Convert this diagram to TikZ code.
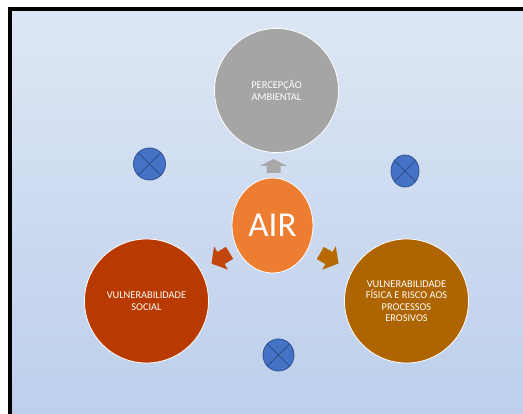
\documentclass[tikz,border=0pt]{standalone}
\usepackage{fontspec}
\setmainfont{Carlito}
\definecolor{bgtop}{HTML}{DDE6F4}
\definecolor{bgmid}{HTML}{A9C0E6}
\definecolor{bgbot}{HTML}{BDCFEC}
\definecolor{cgrey}{HTML}{A5A5A5}
\definecolor{cair}{HTML}{ED7D31}
\definecolor{csoc}{HTML}{B83A00}
\definecolor{cfis}{HTML}{AE6400}
\definecolor{agrey}{HTML}{A8A8A8}
\definecolor{asoc}{HTML}{C2450C}
\definecolor{afis}{HTML}{B66A00}
\definecolor{xblue}{HTML}{4472C4}
\definecolor{xline}{HTML}{2F528F}
\usetikzlibrary{shapes.geometric}
\tikzset{
  bigcirc/.style={circle, draw=white, line width=0.8pt, minimum size=124pt, inner sep=0pt,
    text=white, font=\fontsize{10.4}{11.5}\selectfont, align=center},
  xmark/.style={ellipse, draw=xline, fill=xblue, line width=0.8pt, inner sep=0pt}
}
\begin{document}
\begin{tikzpicture}[x=1pt,y=-1pt]
\useasboundingbox (0,0) rectangle (523,414);
\fill[white] (-2,-2) rectangle (526,417);
\fill[bgbot] (12,11) rectangle (526,417);
\shade[top color=bgtop, middle color=bgmid, bottom color=bgbot] (12,11) rectangle (523,414);
\fill[black] (8,7) rectangle (12,417);
\fill[black] (8,7) rectangle (526,11);

% circles
\node[bigcirc, fill=cgrey] (perc) at (276.5,90.5) {PERCEPÇÃO\\AMBIENTAL};
\node[bigcirc, fill=csoc] (soc) at (146.5,301) {VULNERABILIDADE\\SOCIAL};
\node[bigcirc, fill=cfis] (fis) at (406.5,301) {VULNERABILIDADE\\FÍSICA E RISCO AOS\\PROCESSOS\\EROSIVOS};
\node[ellipse, fill=cair, draw=white, line width=0.8pt, minimum width=81pt, minimum height=95pt, inner sep=0pt,
  text=white, font=\fontsize{35}{40}\selectfont] (air) at (272.5,225.5) {AIR};

% arrows
\fill[agrey] (273.5,159) -- (287,166) -- (280.5,166) -- (280.5,173) -- (266.5,173) -- (266.5,166) -- (260,166) -- cycle;
\fill[asoc, shift={(221,258)}, rotate=211] (-10,-7) -- (0,-7) -- (0,-13.5) -- (11,0) -- (0,13.5) -- (0,7) -- (-10,7) -- cycle;
\fill[afis, shift={(329,258)}, rotate=-30] (-10,-7) -- (0,-7) -- (0,-13.5) -- (11,0) -- (0,13.5) -- (0,7) -- (-10,7) -- cycle;

% x-marks
\node[xmark, minimum width=32pt, minimum height=32pt] (x1) at (149.5,164) {};
\node[xmark, minimum width=28pt, minimum height=32pt] (x2) at (405,171) {};
\node[xmark, minimum width=31pt, minimum height=32pt] (x3) at (278.5,355) {};
\foreach \n in {x1,x2,x3}{
  \draw[xline, line width=0.8pt] (\n.45) -- (\n.225) (\n.135) -- (\n.315);
}
\end{tikzpicture}
\end{document}
